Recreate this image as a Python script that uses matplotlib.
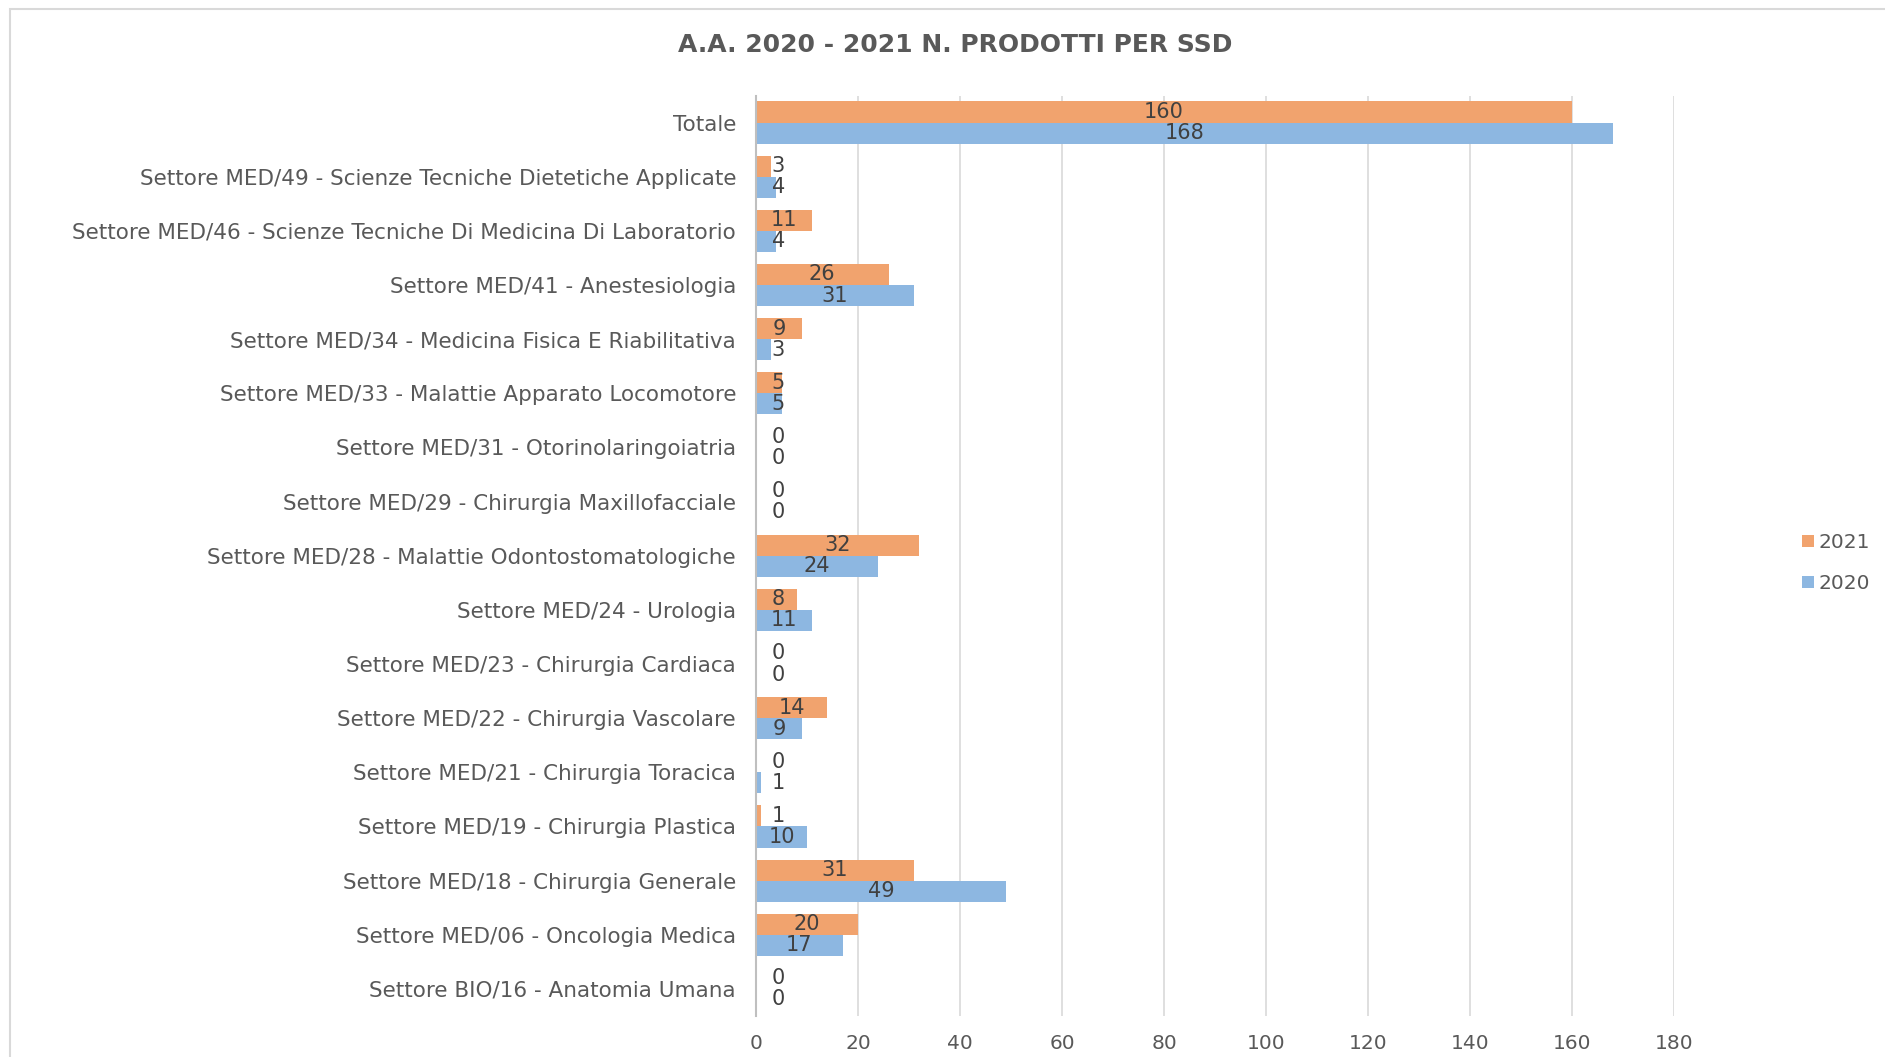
import matplotlib
matplotlib.use("Agg")
import matplotlib.pyplot as plt
from matplotlib.patches import Patch, Rectangle
import numpy as np

categories = [
    "Totale",
    "Settore MED/49 - Scienze Tecniche Dietetiche Applicate",
    "Settore MED/46 - Scienze Tecniche Di Medicina Di Laboratorio",
    "Settore MED/41 - Anestesiologia",
    "Settore MED/34 - Medicina Fisica E Riabilitativa",
    "Settore MED/33 - Malattie Apparato Locomotore",
    "Settore MED/31 - Otorinolaringoiatria",
    "Settore MED/29 - Chirurgia Maxillofacciale",
    "Settore MED/28 - Malattie Odontostomatologiche",
    "Settore MED/24 - Urologia",
    "Settore MED/23 - Chirurgia Cardiaca",
    "Settore MED/22 - Chirurgia Vascolare",
    "Settore MED/21 - Chirurgia Toracica",
    "Settore MED/19 - Chirurgia Plastica",
    "Settore MED/18 - Chirurgia Generale",
    "Settore MED/06 - Oncologia Medica",
    "Settore BIO/16 - Anatomia Umana",
]
values_2021 = [160, 3, 11, 26, 9, 5, 0, 0, 32, 8, 0, 14, 0, 1, 31, 20, 0]
values_2020 = [168, 4, 4, 31, 3, 5, 0, 0, 24, 11, 0, 9, 1, 10, 49, 17, 0]
series_names = ["2021", "2020"]
x_ticks = [0, 20, 40, 60, 80, 100, 120, 140, 160, 180]
title = "A.A. 2020 - 2021 N. PRODOTTI PER SSD"

C21 = "#F1A36E"
C20 = "#8DB7E1"
TXT = "#595959"
FONT = "DejaVu Sans"
FS = 15.5

W, H = 1885, 1057
fig = plt.figure(figsize=(W / 100, H / 100), dpi=100)
fig.patch.set_facecolor("white")

# chart frame (light gray border)
fig.add_artist(Rectangle((10 / W, -0.1), 1.2, 1 - 9 / H + 0.1, transform=fig.transFigure,
                         fill=False, edgecolor="#D9D9D9", linewidth=1.5))

ax = fig.add_axes([756 / W, 1 - 1016 / H, (1674 - 756) / W, (1016 - 95.5) / H])
n = len(categories)
y = np.arange(n)
bh = 0.39
ax.barh(y - bh / 2, values_2021, height=bh, color=C21, label=series_names[0], zorder=3)
ax.barh(y + bh / 2, values_2020, height=bh, color=C20, label=series_names[1], zorder=3)

ax.set_xlim(0, 180)
ax.set_ylim(n - 0.5, -0.5)
ax.set_yticks(y)
ax.set_yticklabels(categories, fontsize=FS, color=TXT, family=FONT)
ax.set_xticks(x_ticks)
ax.set_xticklabels([str(t) for t in x_ticks], fontsize=14.5, color=TXT, family=FONT)
ax.tick_params(axis="both", length=0)
ax.tick_params(axis="y", pad=14.4)
ax.tick_params(axis="x", pad=13)
ax.grid(axis="x", color="#D9D9D9", linewidth=1.2, zorder=0)
for s in ["top", "right", "bottom"]:
    ax.spines[s].set_visible(False)
ax.spines["left"].set_color("#BFBFBF")
ax.spines["left"].set_linewidth(1.5)
ax.spines["left"].set_zorder(4)

for vals, off in ((values_2021, -bh / 2), (values_2020, bh / 2)):
    for i, v in enumerate(vals):
        xc = max(v / 2, 4.4)
        ax.text(xc, i + off, str(v), ha="center", va="center", fontsize=15,
                color="#404040", family=FONT, zorder=5)

fig.text(955 / W, 1 - 45 / H, title, ha="center", va="center", fontsize=18,
         fontweight="bold", color=TXT, family=FONT)

handles = [Patch(facecolor=C21), Patch(facecolor=C20)]
fig.legend(handles, series_names, loc="center left", bbox_to_anchor=(1802 / W, 1 - 563 / H),
           frameon=False, labelcolor=TXT, handlelength=0.58, handleheight=0.58,
           handletextpad=0.22, labelspacing=1.1, borderpad=0, borderaxespad=0,
           prop={"family": FONT, "size": 14.5})

fig.savefig("out.png", dpi=100, facecolor="white")
